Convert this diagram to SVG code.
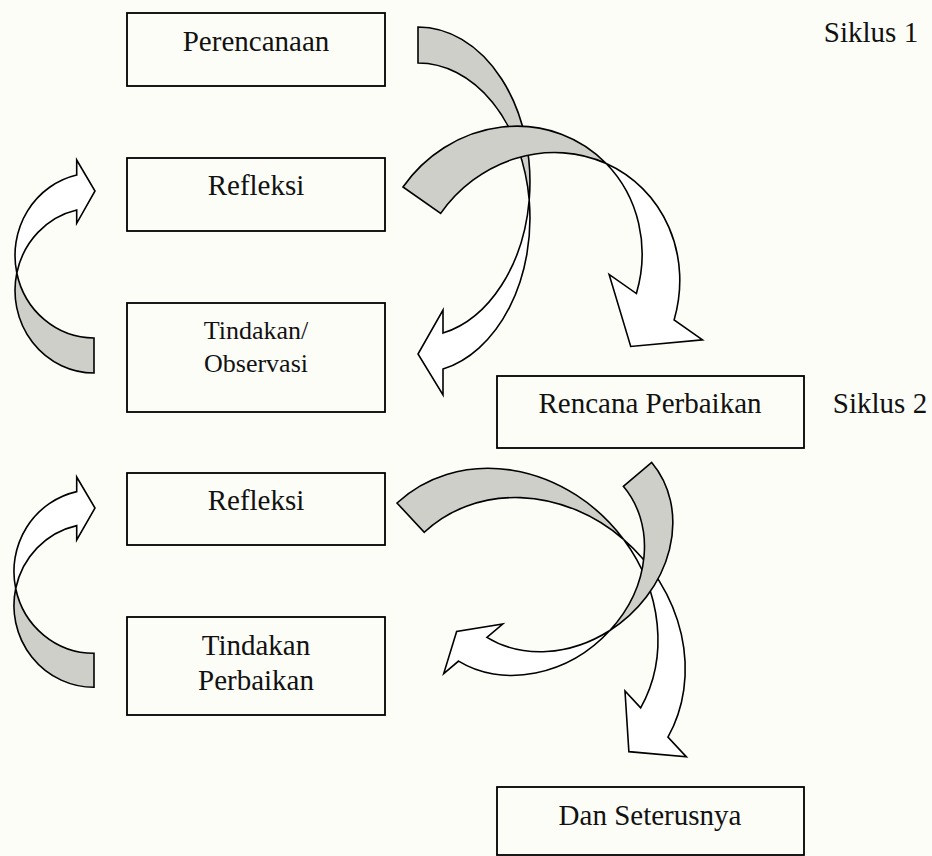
<svg xmlns="http://www.w3.org/2000/svg" width="932" height="856" viewBox="0 0 932 856">
<style>
.box{fill:none;stroke:#000;stroke-width:1.8}
.t{font-family:"Liberation Serif","Times New Roman",serif;font-size:29px;fill:#111;text-anchor:middle}
.ts{font-size:26px}
.back{fill:#cfcfca;stroke:#000;stroke-width:1.6;stroke-linejoin:miter}
.front{fill:#ffffff;stroke:#000;stroke-width:1.6;stroke-linejoin:miter}
</style>
<rect x="0" y="0" width="932" height="856" fill="#fdfdf8"/>
<g id="connectors">
  <g id="arrowA">
    <path class="back" d="M418,27 A112,155 0 0 1 529.2,200 A112,155 0 0 0 418,63 Z"/>
    <path class="front" d="M529.2,200 A112,155 0 0 1 443,333.1 L443,310 L418,354 L443,395 L443,369.1 A112,155 0 0 0 529.2,200 Z"/>
  </g>
  <g id="arrowB" transform="translate(403,187) rotate(35)">
    <path class="back" d="M0,0 A130,138 0 0 1 153,-135.8 A130,138 0 0 0 46,0 Z"/>
    <path class="front" d="M153,-135.8 A130,138 0 0 1 252.3,-46.6 L219,-46.6 L278,0 L333,-46.6 L298.3,-46.6 A130,138 0 0 0 153,-135.8 Z"/>
  </g>
  <g id="arrowD" transform="translate(397,503) rotate(47)">
    <path class="back" d="M0,0 A161,142 0 0 1 181,-140.9 A161,142 0 0 0 40,0 Z"/>
    <path class="front" d="M181,-140.9 A161,142 0 0 1 316,-38.5 L293,-38.5 L340,0 L383,-38.5 L356,-38.5 A161,142 0 0 0 181,-140.9 Z"/>
  </g>
  <g id="arrowC" transform="translate(651.7,462.5) rotate(50)">
    <path class="back" d="M0,0 A103,121.6 0 0 1 101.8,140.1 A103,121.6 0 0 0 0,37 Z"/>
    <path class="front" d="M101.8,140.1 A103,121.6 0 0 1 28,238.6 L28,218 L4,258 L28,295 L28,275.6 A103,121.6 0 0 0 101.8,140.1 Z"/>
  </g>
  <g id="arrowE">
    <path class="back" d="M94,373 A79,82.5 0 0 1 16.8,273 A79,82.5 0 0 0 94,338 Z"/>
    <path class="front" d="M16.8,273 A79,82.5 0 0 1 76.7,175 L76.7,160 L95,191 L76.7,223.3 L76.7,210 A79,82.5 0 0 0 16.8,273 Z"/>
  </g>
  <g id="arrowF">
    <path class="back" d="M94,687.3 A80,81.8 0 0 1 15.7,588.5 A80,81.8 0 0 0 94,653.3 Z"/>
    <path class="front" d="M15.7,588.5 A80,81.8 0 0 1 76.7,491.6 L76.7,477 L95,508 L76.7,540 L76.7,525.6 A80,81.8 0 0 0 15.7,588.5 Z"/>
  </g>
</g>
<g id="perencanaan">
  <rect class="box" x="127" y="13" width="258" height="73"/>
  <text class="t" x="256" y="51">Perencanaan</text>
</g>
<g id="refleksi1">
  <rect class="box" x="127" y="158" width="258" height="73"/>
  <text class="t" x="256" y="195">Refleksi</text>
</g>
<g id="tindakan-observasi">
  <rect class="box" x="127" y="303" width="258" height="109"/>
  <text class="t ts" x="256" y="339">Tindakan/</text>
  <text class="t ts" x="256" y="372">Observasi</text>
</g>
<g id="rencana-perbaikan">
  <rect class="box" x="497" y="376" width="307" height="72"/>
  <text class="t" x="650" y="413">Rencana Perbaikan</text>
</g>
<g id="refleksi2">
  <rect class="box" x="127" y="473" width="258" height="72"/>
  <text class="t" x="256" y="510">Refleksi</text>
</g>
<g id="tindakan-perbaikan">
  <rect class="box" x="127" y="617" width="258" height="98"/>
  <text class="t" x="256" y="655">Tindakan</text>
  <text class="t" x="256" y="690">Perbaikan</text>
</g>
<g id="dan-seterusnya">
  <rect class="box" x="497" y="787" width="307" height="68"/>
  <text class="t" x="650" y="825">Dan Seterusnya</text>
</g>
<g id="labels">
  <text class="t" x="871" y="42">Siklus 1</text>
  <text class="t" x="880" y="413">Siklus 2</text>
</g>
</svg>
